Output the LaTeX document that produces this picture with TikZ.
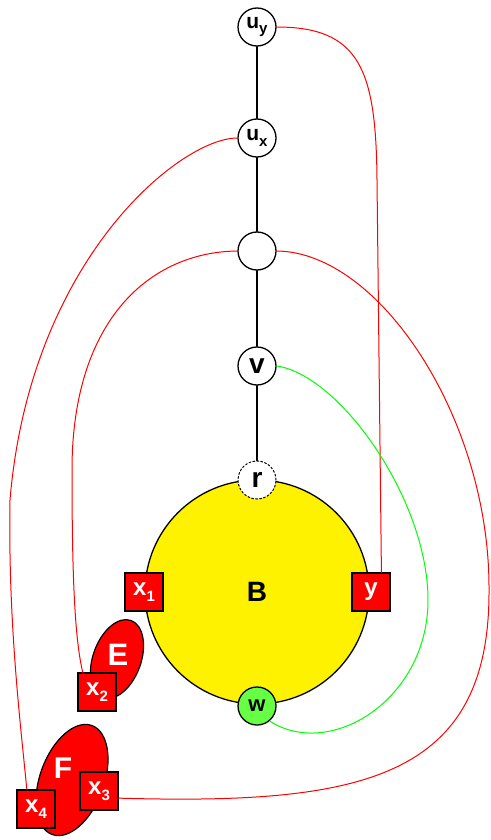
\documentclass[tikz,border=0pt]{standalone}
\usepackage{fontspec}
\setmainfont{Liberation Sans}
\usetikzlibrary{shapes.geometric}
\definecolor{verdew}{HTML}{66FF44}
\newcommand{\pedice}[1]{\raisebox{-0.5ex}{\fontsize{15}{15}\selectfont #1}}
\newcommand{\fs}[1]{\fontsize{#1}{#1}\selectfont\bfseries}

\begin{document}
\begin{tikzpicture}[x=1pt,y=-1pt, line cap=round,
  vert/.style={circle, draw, line width=1.3pt, fill=white, minimum size=38pt, inner sep=0pt, font=\fs{21}},
  term/.style={rectangle, draw, line width=1.2pt, fill=red, text=white, minimum size=38pt, inner sep=0pt, font=\fs{24}},
  blob/.style={ellipse, draw, line width=1.2pt, fill=red, inner sep=0pt},
  arco/.style={red, line width=1pt}]

  \useasboundingbox (0,0) rectangle (490,840);

  %--- blocco B
  \node[circle, draw, line width=1.3pt, fill=yellow, minimum size=224pt, inner sep=0pt, font=\fs{28}] (B) at (257,592) {B};

  %--- cammino verticale
  \node[vert] (uy) at (257,27) {u\pedice{y}};
  \node[vert] (ux) at (257,138) {u\pedice{x}};
  \node[vert] (m) at (257,251) {};
  \node[vert, font=\fs{28}] (v) at (257,366) {v};
  \node[vert, dash pattern=on 2pt off 2pt, line width=1pt, font=\fs{28}] (r) at (257,480) {r};
  \node[vert, fill=verdew, font=\fs{22}] (w) at (257,706) {w};
  \draw[line width=1.2pt] (uy) -- (ux) -- (m) -- (v) -- (r);

  %--- componenti E ed F
  \node[blob, minimum width=48pt, minimum height=82pt, rotate=-20] (E) at (117,659) {};
  \node[text=white, font=\fs{31}] (Elab) at (118,655) {E};
  \node[blob, minimum width=64pt, minimum height=116pt, rotate=-20] (F) at (72,780) {};
  \node[text=white, font=\fs{30}] (Flab) at (63,768) {F};

  %--- terminali
  \node[term] (x1) at (144,592) {x\pedice{1}};
  \node[term] (y) at (371,592) {y};
  \node[term] (x2) at (97,692) {x\pedice{2}};
  \node[term] (x3) at (99,791) {x\pedice{3}};
  \node[term] (x4) at (36,809) {x\pedice{4}};

  %--- archi
  \draw[arco] (uy.east) .. controls (360,27) and (376,70) .. (377,180) -- (y.62);
  \draw[arco] (ux.west) .. controls (180,138) and (30,260) .. (10,500)
    .. controls (8,620) and (20,720) .. (x4.115);
  \draw[arco] (m.west) .. controls (150,252) and (72,320) .. (72,470)
    .. controls (72,580) and (75,640) .. (x2.126);
  \draw[arco] (m.east) .. controls (380,252) and (490,420) .. (489,590)
    .. controls (490,780) and (360,805) .. (x3.-20);
  \draw[green, line width=1pt] (v.east) .. controls (340,375) and (428,500) .. (428,600)
    .. controls (428,700) and (330,760) .. (w.-50);
\end{tikzpicture}
\end{document}
